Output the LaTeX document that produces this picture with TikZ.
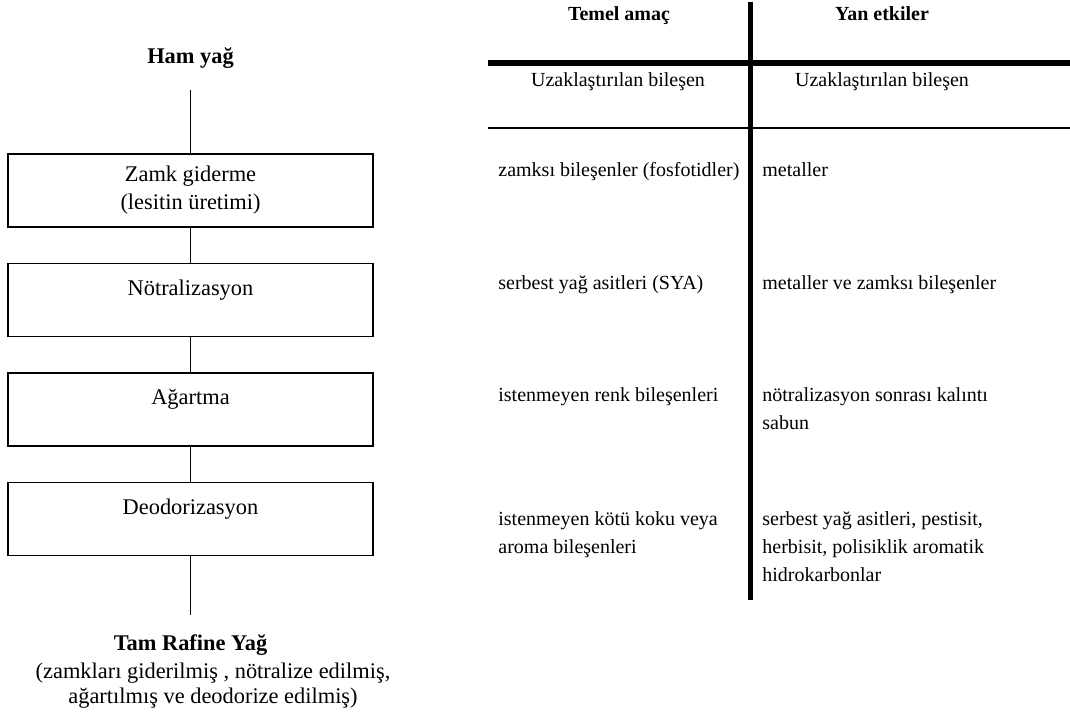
\documentclass[tikz,border=0pt]{standalone}
\usepackage{fontspec}
\setmainfont{Liberation Serif}
\usetikzlibrary{positioning}

\begin{document}
\begin{tikzpicture}[
  x=0.5pt, y=-0.5pt,
  node distance=17.5pt,
  every node/.style={font=\fontsize{11.2}{14}\selectfont},
  box/.style={draw,line width=0.8pt,minimum width=182.5pt,minimum height=36.5pt,inner sep=0pt,align=center},
  topline/.style={text height=16pt,text depth=20.5pt},
  title/.style={font=\fontsize{11.2}{14}\selectfont\bfseries,inner sep=0pt},
  head/.style={font=\fontsize{10}{14}\selectfont\bfseries,inner sep=0pt,anchor=base},
  link/.style={line width=0.6pt},
  cell/.style={anchor=north west,align=left,inner sep=0pt,font=\fontsize{10}{14}\selectfont},
  rule/.style={line width=#1}
]
\useasboundingbox (0,0) rectangle (1070,715);

% akis semasi
\node[title] (ham) at (190.5,58) {Ham yağ};
\node[box,anchor=north] (zamk) at (190.5,153) {Zamk giderme\\(lesitin üretimi)};
\node[box,topline,below=of zamk] (notr) {Nötralizasyon};
\node[box,topline,below=of notr] (agart) {Ağartma};
\node[box,topline,below=of agart] (deo) {Deodorizasyon};
\node[title,below=39pt of deo] (tam) {Tam Rafine Yağ};
\node[anchor=north,align=center,inner sep=0pt,font=\fontsize{11.2}{12.5}\selectfont] (tamnot) at (213,663)
  {(zamkları giderilmiş , nötralize edilmiş,\\ağartılmış ve deodorize edilmiş)};
\draw[link,shorten <=10.5pt] (ham) -- (zamk);
\draw[link] (zamk) -- (notr);
\draw[link] (notr) -- (agart);
\draw[link] (agart) -- (deo);
\draw[link,shorten >=9.5pt] (deo) -- (tam);

% tablo
\draw[rule=2.5pt] (750,2) -- (750,600);
\draw[rule=3pt] (488,63) -- (1070,63);
\draw[rule=0.8pt] (488,128) -- (1070,128);
\node[head] (colamac) at (619,21) {Temel amaç};
\node[head] (colyan) at (882,21) {Yan etkiler};
\node[cell,anchor=base] (subamac) at (618,87) {Uzaklaştırılan bileşen};
\node[cell,anchor=base] (subyan) at (882,87) {Uzaklaştırılan bileşen};

\node[cell] (amac1) at (498,162) {zamksı bileşenler (fosfotidler)};
\node[cell] (yan1) at (762,162) {metaller};
\node[cell] (amac2) at (498,275) {serbest yağ asitleri (SYA)};
\node[cell] (yan2) at (762,275) {metaller ve zamksı bileşenler};
\node[cell] (amac3) at (498,387) {istenmeyen renk bileşenleri};
\node[cell] (yan3) at (762,387) {nötralizasyon sonrası kalıntı\\sabun};
\node[cell] (amac4) at (498,511) {istenmeyen kötü koku veya\\aroma bileşenleri};
\node[cell] (yan4) at (762,511) {serbest yağ asitleri, pestisit,\\herbisit, polisiklik aromatik\\hidrokarbonlar};
\end{tikzpicture}
\end{document}
